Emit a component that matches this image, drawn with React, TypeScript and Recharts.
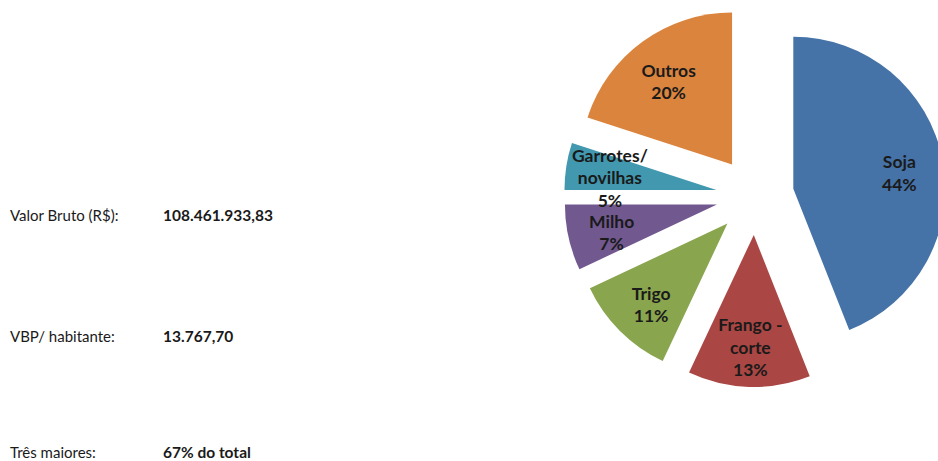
import React from 'react';
import { PieChart, Pie, Cell, Sector } from 'recharts';

const categories = ['Soja', 'Frango - corte', 'Trigo', 'Milho', 'Garrotes/ novilhas', 'Outros'];
const shares = [44, 13, 11, 7, 5, 20];
const colors = ['#4572A7', '#AA4643', '#89A54E', '#71588F', '#4198AF', '#DB843D'];

const infoLabels = ['Valor Bruto (R$):', 'VBP/ habitante:', 'Três maiores:'];
const infoValues = ['108.461.933,83', '13.767,70', '67% do total'];

const data = categories.map((name, i) => ({ name, value: shares[i] }));

const RAD = Math.PI / 180;
const EXPLODE = 39;
const FONT = 'Lato, "Open Sans", sans-serif';

// slice pulled out from the centre along its mid angle
function explodedSlice(props: any) {
  const { cx, cy, midAngle, outerRadius, startAngle, endAngle, index } = props;
  const dx = EXPLODE * Math.cos(-midAngle * RAD);
  const dy = EXPLODE * Math.sin(-midAngle * RAD);
  return (
    <Sector
      key={`s-${index}`}
      cx={cx + dx}
      cy={cy + dy}
      innerRadius={0}
      outerRadius={outerRadius}
      startAngle={startAngle}
      endAngle={endAngle}
      fill={colors[index]}
    />
  );
}

function sliceLabel(props: any) {
  const { cx, cy, midAngle, outerRadius, index, name, value } = props;
  const r = EXPLODE + outerRadius * 0.71;
  const x = cx + r * Math.cos(-midAngle * RAD);
  const y = cy + 4 + r * Math.sin(-midAngle * RAD);
  const lines: string[] = String(name).split(/(?<=[-\/]) /);
  lines.push(`${value}%`);
  const lh = 22.5;
  const top = y - ((lines.length - 1) * lh) / 2;
  return (
    <text
      key={`l-${index}`}
      x={x}
      y={top}
      textAnchor="middle"
      dominantBaseline="central"
      fill="#1a1a1a"
      fontFamily={FONT}
      fontWeight={700}
      fontSize={17.5}
    >
      {lines.map((t, i) => (
        <tspan key={i} x={x} dy={i === 0 ? 0 : lh}>
          {t}
        </tspan>
      ))}
    </text>
  );
}

export default function App() {
  const rowY = [221, 342, 458];
  return (
    <div style={{ position: 'absolute', left: 0, top: 0, width: 938, height: 461, overflow: 'hidden', background: '#fff' }}>
      <svg width={938} height={461} style={{ position: 'absolute', left: 0, top: 0 }}>
        {infoLabels.map((t, i) => (
          <g key={t} fontFamily={FONT} fontSize={15} fill="#1a1a1a">
            <text x={10} y={rowY[i]}>{t}</text>
            <text x={163} y={rowY[i]} fontWeight={700} fontSize={15.5}>{infoValues[i]}</text>
          </g>
        ))}
      </svg>
      <div style={{ position: 'absolute', left: 0, top: 0 }}>
        <PieChart width={938} height={461} margin={{ top: 0, right: 0, bottom: 0, left: 0 }}>
          <Pie
            data={data}
            dataKey="value"
            nameKey="name"
            cx={755}
            cy={196}
            outerRadius={152}
            startAngle={90}
            endAngle={-270}
            fillOpacity={0}
            stroke="none"
            label={explodedSlice}
            labelLine={false}
            isAnimationActive={false}
          >
            {data.map((d, i) => (
              <Cell key={d.name} fill={colors[i]} />
            ))}
          </Pie>
          <Pie
            data={data}
            dataKey="value"
            nameKey="name"
            cx={755}
            cy={196}
            outerRadius={152}
            startAngle={90}
            endAngle={-270}
            fillOpacity={0}
            stroke="none"
            label={sliceLabel}
            labelLine={false}
            isAnimationActive={false}
          />
        </PieChart>
      </div>
    </div>
  );
}
